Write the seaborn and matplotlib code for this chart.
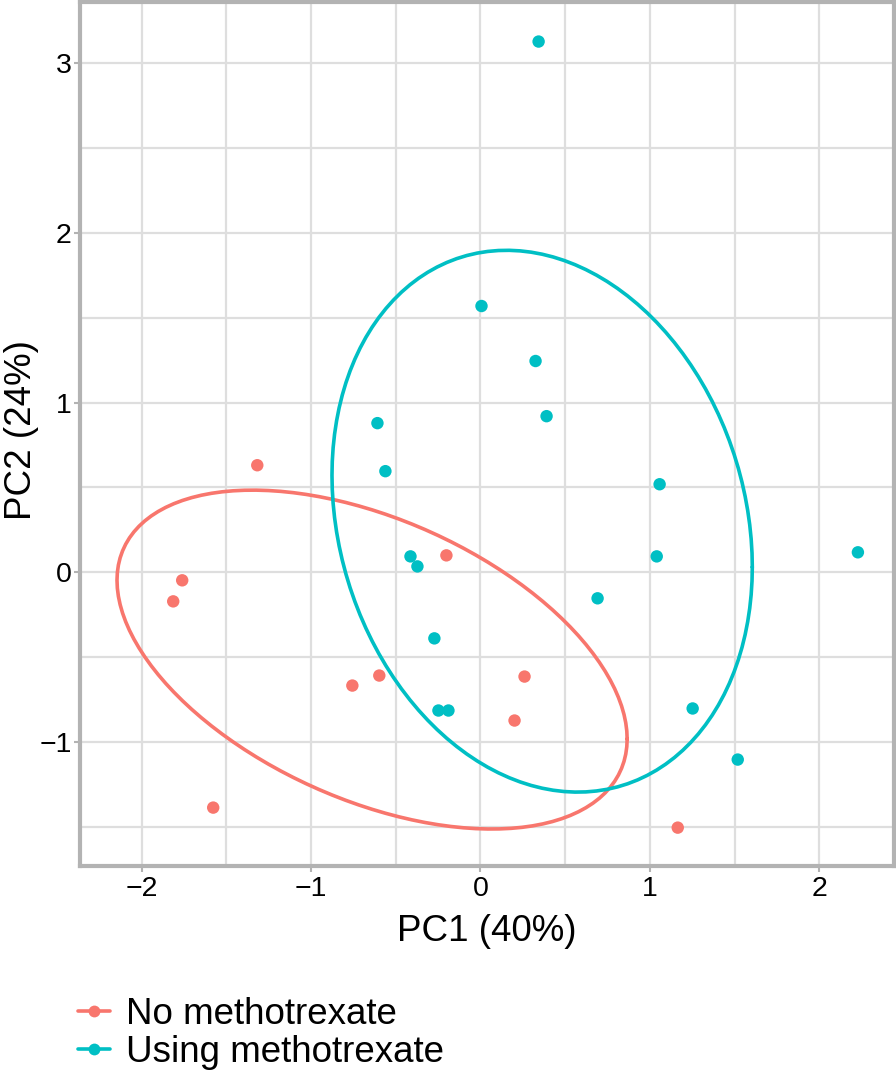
import numpy as np
import pandas as pd
import matplotlib
matplotlib.use("Agg")
import matplotlib.pyplot as plt
from matplotlib.lines import Line2D
import seaborn as sns

# ---- data ----
groups = ["No methotrexate", "Using methotrexate"]
colors = ["#F8766D", "#00BFC4"]

no_pc1 = [-1.317, -0.201, -1.760, -1.813, -0.756, -0.597, 0.260, 0.201, -1.577, 1.164]
no_pc2 = [0.631, 0.100, -0.047, -0.171, -0.667, -0.608, -0.614, -0.873, -1.386, -1.504]

use_pc1 = [0.343, 0.006, 0.325, 0.390, -0.608, -0.561, 1.057, -0.413, -0.372,
           1.040, 2.227, 0.691, -0.272, -0.248, -0.189, 1.252, 1.518]
use_pc2 = [3.127, 1.569, 1.245, 0.920, 0.879, 0.596, 0.519, 0.094, 0.035,
           0.094, 0.118, -0.153, -0.389, -0.814, -0.814, -0.802, -1.103]

x_ticks = [-2, -1, 0, 1, 2]
y_ticks = [-1, 0, 1, 2, 3]
x_label = "PC1 (40%)"
y_label = "PC2 (24%)"
ellipse_level = 0.68

df = pd.DataFrame({
    "PC1": no_pc1 + use_pc1,
    "PC2": no_pc2 + use_pc2,
    "group": [groups[0]] * len(no_pc1) + [groups[1]] * len(use_pc1),
})


def ellipse_pts(xs, ys, level=0.68, segments=120):
    data = np.column_stack([xs, ys])
    center = data.mean(0)
    shape = np.cov(data, rowvar=False)
    radius = np.sqrt(-2 * np.log(1 - level))
    ang = np.arange(segments + 1) * 2 * np.pi / segments
    circ = np.column_stack([np.cos(ang), np.sin(ang)])
    R = np.linalg.cholesky(shape).T
    e = center + radius * (circ @ R)
    return e[:, 0], e[:, 1]


sns.set_theme(style="white")
plt.rcParams["font.family"] = ["Liberation Sans", "DejaVu Sans"]
plt.rcParams["text.color"] = "black"
plt.rcParams["axes.labelcolor"] = "black"

fig = plt.figure(figsize=(8.96, 10.73), dpi=100)
ax = fig.add_axes([80 / 896, (1073 - 866) / 1073, (894 - 80) / 896, (866 - 2) / 1073])

# grid
for v in np.arange(-2.5, 3.0, 0.5):
    ax.axvline(v, color="#DEDEDE", lw=1.6, zorder=0)
for v in np.arange(-1.5, 3.6, 0.5):
    ax.axhline(v, color="#DEDEDE", lw=1.6, zorder=0)

sns.scatterplot(data=df, x="PC1", y="PC2", hue="group", hue_order=groups,
                palette=colors, s=80, edgecolor="none", ax=ax, legend=False, zorder=3)

for (xs, ys), c in zip([(no_pc1, no_pc2), (use_pc1, use_pc2)], colors):
    ex, ey = ellipse_pts(np.array(xs), np.array(ys), level=ellipse_level)
    ax.plot(ex, ey, color=c, lw=2.6, zorder=2)

ax.set_xlim(-2.363, 2.44)
ax.set_ylim(-1.73, 3.36)
ax.set_xticks(x_ticks)
ax.set_yticks(y_ticks)
ax.set_xticklabels([str(t).replace("-", "\u2212") for t in x_ticks])
ax.set_yticklabels([str(t).replace("-", "\u2212") for t in y_ticks])
ax.tick_params(axis="both", labelsize=20.5, colors="#B3B3B3", labelcolor="black",
               length=4, width=1.5, direction="out", bottom=True, left=True)
ax.tick_params(axis="x", pad=3.5)
ax.tick_params(axis="y", pad=2)
ax.set_xlabel(x_label, fontsize=26.5, labelpad=8, color="black")
ax.set_ylabel(y_label, fontsize=26.5, color="black", va="center", ha="center")
ax.yaxis.set_label_coords(-0.072, 0.505)
for s in ax.spines.values():
    s.set_visible(True)
    s.set_color("#B3B3B3")
    s.set_linewidth(3)

handles = [Line2D([0], [0], color=c, lw=2.6, marker="o", markersize=8.5,
                  markeredgecolor="none") for c in colors]
fig.legend(handles, groups, loc="lower left", bbox_to_anchor=(60 / 896, -0.014),
           frameon=False, fontsize=26.5, handlelength=0.85, handletextpad=0.45,
           labelspacing=0.08, borderaxespad=0.1, labelcolor="black")

fig.savefig("out.png", dpi=100)
